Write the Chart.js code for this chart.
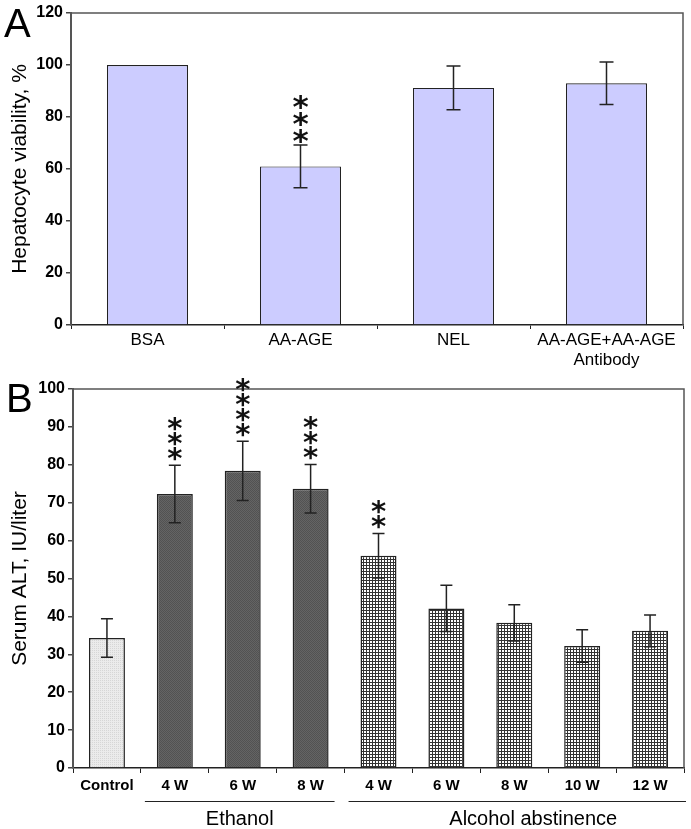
<!DOCTYPE html>
<html>
<head>
<meta charset="utf-8">
<script src="https://cdn.jsdelivr.net/npm/chart.js@4.4.1/dist/chart.umd.min.js"></script>
<style>
  body { margin: 0; background: #fff; }
  #wrap { position: relative; width: 691px; height: 829px; }
  .panel { position: absolute; left: 0; width: 691px; }
  .letter { position: absolute; font-family: "Liberation Sans", Arial, sans-serif; font-size: 40px; line-height: 1; color: #000; }
</style>
</head>
<body>
<div id="wrap">
  <div class="panel" style="top:0;height:370px"><canvas id="chartA" width="691" height="370"></canvas></div>
  <div class="panel" style="top:370px;height:459px"><canvas id="chartB" width="691" height="459"></canvas></div>
  <div class="letter" style="left:4px;top:3px">A</div>
  <div class="letter" style="left:6px;top:378px">B</div>
</div>
<script>
// Panel A data
const categoriesA = ['BSA', 'AA-AGE', 'NEL', ['AA-AGE+AA-AGE', 'Antibody']];
const viabilityA = [100, 61, 91.2, 93];
const viabilityErrA = [0, 8.2, 8.4, 8.2];
const starsA = [0, 3, 0, 0];

// Panel B data
const categoriesB = ['Control', '4 W', '6 W', '8 W', '4 W', '6 W', '8 W', '10 W', '12 W'];
const altB = [34.3, 72.3, 78.4, 73.7, 56.0, 42.1, 38.3, 32.2, 36.2];
const altErrB = [5.1, 7.6, 7.8, 6.4, 5.9, 6.1, 4.8, 4.3, 4.2];
const starsB = [0, 3, 4, 3, 2, 0, 0, 0, 0];
const groupNamesB = ['Ethanol', 'Alcohol abstinence'];
const groupRangesB = [[1, 3], [4, 8]];

const FONT = '"Liberation Sans", Arial, sans-serif';
Chart.defaults.font.family = FONT;
Chart.defaults.color = '#000';

function makePattern(size, draw) {
    const c = document.createElement('canvas');
    c.width = size; c.height = size;
    const g = c.getContext('2d');
    draw(g);
    return g.createPattern(c, 'repeat');
}
const controlFill = makePattern(2, g => {
    g.fillStyle = '#ebebeb'; g.fillRect(0, 0, 2, 2);
    g.fillStyle = '#d6d6d6'; g.fillRect(0, 0, 1, 1);
});
const ethanolFill = makePattern(2, g => {
    g.fillStyle = '#646464'; g.fillRect(0, 0, 2, 2);
    g.fillStyle = '#525252'; g.fillRect(0, 0, 1, 1); g.fillRect(1, 1, 1, 1);
});
const abstFill = makePattern(3, g => {
    g.fillStyle = '#fff'; g.fillRect(0, 0, 3, 3);
    g.fillStyle = '#333'; g.fillRect(0, 0, 3, 1); g.fillRect(0, 0, 1, 3);
});
const fillsB = categoriesB.map((c, i) => i === 0 ? controlFill : (i <= 3 ? ethanolFill : abstFill));

// error bars, significance stars, frame
const extras = {
    id: 'extras',
    afterDatasetsDraw(chart, args, o) {
        const ctx = chart.ctx, ys = chart.scales.y, a = chart.chartArea;
        const vals = chart.data.datasets[0].data;
        ctx.save();
        ctx.strokeStyle = '#555';
        ctx.lineWidth = 1.5;
        ctx.beginPath();
        ctx.moveTo(a.left, a.top); ctx.lineTo(a.right, a.top); ctx.lineTo(a.right, a.bottom);
        ctx.stroke();
        chart.getDatasetMeta(0).data.forEach((bar, i) => {
            const e = o.errors[i];
            if (!e) return;
            const x = bar.x;
            const yt = ys.getPixelForValue(vals[i] + e);
            const yb = ys.getPixelForValue(vals[i] - e);
            ctx.strokeStyle = '#222';
            ctx.lineWidth = 1.5;
            ctx.beginPath();
            ctx.moveTo(x, yt); ctx.lineTo(x, yb);
            ctx.moveTo(x - o.cap, yt); ctx.lineTo(x + o.cap, yt);
            ctx.moveTo(x - o.cap, yb); ctx.lineTo(x + o.cap, yb);
            ctx.stroke();
            const n = o.stars[i];
            if (n) {
                ctx.font = o.starFont;
                ctx.fillStyle = '#111';
                ctx.textAlign = 'center';
                ctx.textBaseline = 'alphabetic';
                const m = ctx.measureText('*');
                const off = (m.actualBoundingBoxAscent - m.actualBoundingBoxDescent) / 2;
                for (let k = 0; k < n; k++) {
                    const cy = yt - o.starGap - k * o.starStep;
                    ctx.fillText('*', x, cy + off);
                }
            }
        });
        ctx.restore();
    }
};

// group labels under panel B
const groups = {
    id: 'groups',
    afterDraw(chart) {
        const ctx = chart.ctx, xs = chart.scales.x;
        const half = (xs.getPixelForValue(1) - xs.getPixelForValue(0)) / 2;
        ctx.save();
        groupNamesB.forEach((name, g) => {
            const [f, t] = groupRangesB[g];
            const last = g === groupNamesB.length - 1;
            const x0 = xs.getPixelForValue(f) - half + 4;
            const x1 = xs.getPixelForValue(t) + half + (last ? 2 : -10);
            ctx.strokeStyle = '#222';
            ctx.lineWidth = 1.2;
            ctx.beginPath();
            ctx.moveTo(x0, 431.5); ctx.lineTo(x1, 431.5);
            ctx.stroke();
            ctx.font = '20px ' + FONT;
            ctx.fillStyle = '#000';
            ctx.textAlign = 'center';
            ctx.textBaseline = 'middle';
            // the abstinence caption sits a little right of its line's middle
            ctx.fillText(name, (x0 + x1) / 2 + (last ? 16 : 0), 449);
        });
        ctx.restore();
    }
};

function yAxis(max, step, width, title) {
    return {
        min: 0, max: max,
        ticks: { stepSize: step, padding: 3, color: '#000', font: { size: 16, weight: 'bold' } },
        grid: { display: true, drawOnChartArea: false, tickLength: 5, color: '#444', lineWidth: 1.5 },
        border: { color: '#555', width: 2 },
        title: { display: true, text: title, color: '#000', font: { size: 21 }, padding: { top: 8, bottom: 0 } },
        afterFit(s) { s.width = width; }
    };
}

new Chart(document.getElementById('chartA'), {
    type: 'bar',
    data: {
        labels: categoriesA,
        datasets: [{
            data: viabilityA,
            backgroundColor: '#ccccff',
            borderColor: '#222',
            borderWidth: 1.2,
            barPercentage: 0.53,
            categoryPercentage: 1
        }]
    },
    options: {
        responsive: false,
        animation: false,
        layout: { padding: { top: 13, right: 8, left: 0, bottom: 0 } },
        plugins: {
            legend: { display: false },
            tooltip: { enabled: false },
            extras: { errors: viabilityErrA, stars: starsA, cap: 7, starFont: 'bold 31px "DejaVu Sans"', starGap: 9, starStep: 17 }
        },
        scales: {
            x: {
                grid: { display: true, drawOnChartArea: false, offset: true, tickLength: 4, color: '#222' },
                border: { color: '#222', width: 1.5 },
                ticks: { color: '#000', font: { size: 17 }, padding: 1, maxRotation: 0, autoSkip: false },
                afterFit(s) { s.height = 45; }
            },
            y: yAxis(120, 20, 71, 'Hepatocyte viability, %')
        }
    },
    plugins: [extras]
});

new Chart(document.getElementById('chartB'), {
    type: 'bar',
    data: {
        labels: categoriesB,
        datasets: [{
            data: altB,
            backgroundColor: fillsB,
            borderColor: '#222',
            borderWidth: 1.5,
            barPercentage: 0.53,
            categoryPercentage: 1
        }]
    },
    options: {
        responsive: false,
        animation: false,
        layout: { padding: { top: 19, right: 7, left: 0, bottom: 0 } },
        plugins: {
            legend: { display: false },
            tooltip: { enabled: false },
            extras: { errors: altErrB, stars: starsB, cap: 6, starFont: 'bold 29px "DejaVu Sans"', starGap: 11, starStep: 15 }
        },
        scales: {
            x: {
                grid: { display: true, drawOnChartArea: false, offset: true, tickLength: 5, color: '#222' },
                border: { color: '#222', width: 1.5 },
                ticks: { color: '#000', font: { size: 15, weight: 'bold' }, padding: 4, maxRotation: 0, autoSkip: false },
                afterFit(s) { s.height = 61; }
            },
            y: yAxis(100, 10, 73, 'Serum ALT, IU/liter')
        }
    },
    plugins: [extras, groups]
});
</script>
</body>
</html>
